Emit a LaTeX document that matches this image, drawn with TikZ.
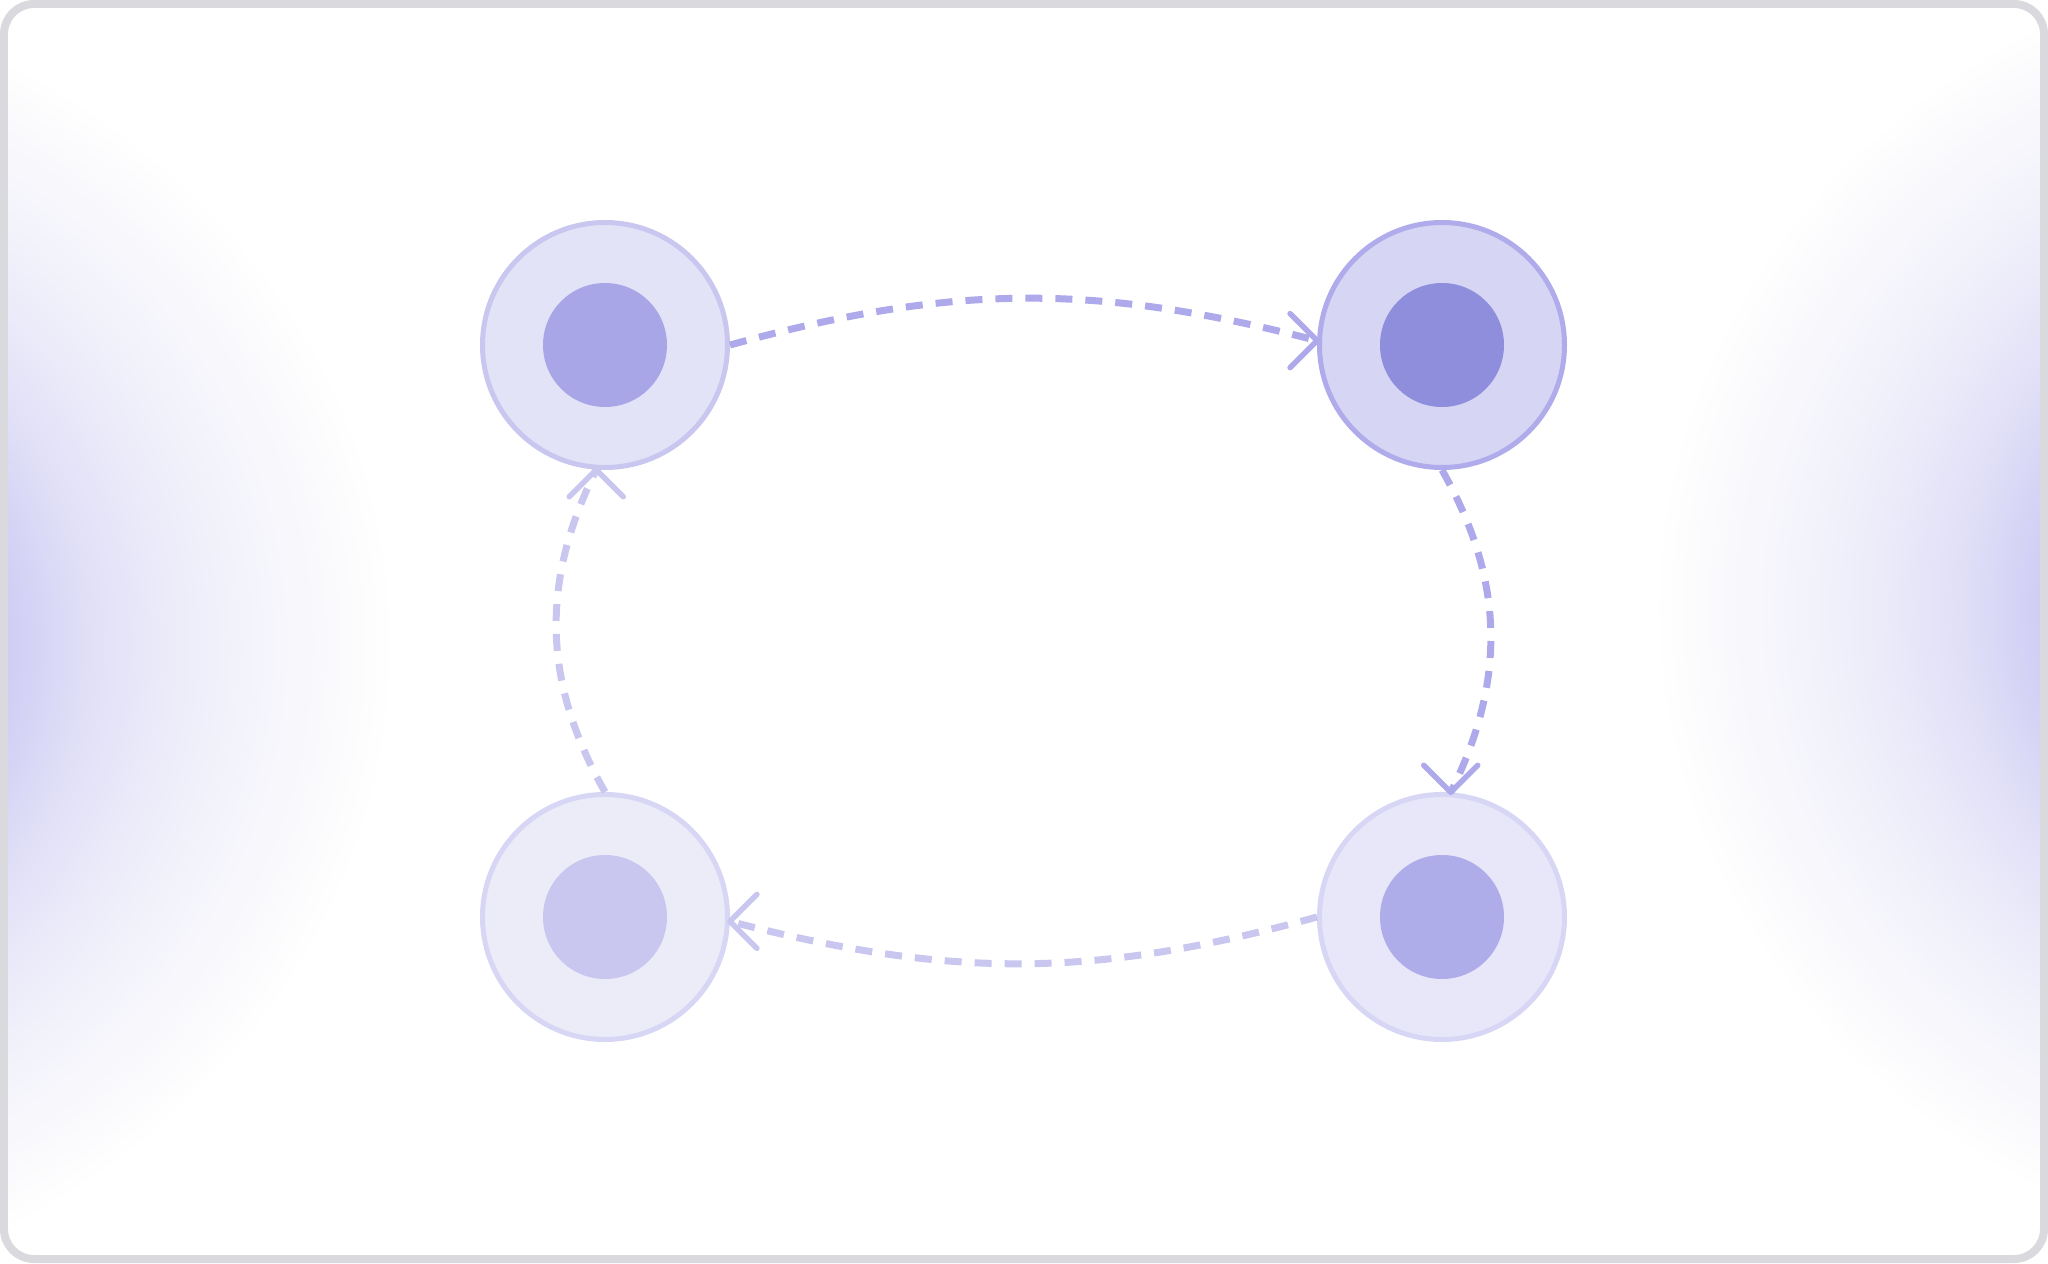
\documentclass[tikz,border=0pt]{standalone}
\usepackage{tikz}
\usetikzlibrary{arrows.meta,calc,positioning}

\definecolor{frameline}{HTML}{DADADE}
\definecolor{glowin}{HTML}{D0CEF4}
\definecolor{glowa}{HTML}{DFDEF7}
\definecolor{glowb}{HTML}{E9E8F9}
\definecolor{glowc}{HTML}{F0F0FB}
\definecolor{glowd}{HTML}{F6F6FC}
\definecolor{glowe}{HTML}{FBFBFD}
\definecolor{tlfill}{HTML}{E3E3F8}
\definecolor{tlline}{HTML}{C9C6EF}
\definecolor{tlcore}{HTML}{A9A6E8}
\definecolor{trfill}{HTML}{D7D5F4}
\definecolor{trline}{HTML}{B0ABEB}
\definecolor{trcore}{HTML}{8F8EDD}
\definecolor{brfill}{HTML}{E8E7F9}
\definecolor{brline}{HTML}{D8D6F5}
\definecolor{brcore}{HTML}{AFACEA}
\definecolor{blfill}{HTML}{ECEBF8}
\definecolor{blline}{HTML}{D8D6F5}
\definecolor{blcore}{HTML}{C9C7EF}
\definecolor{darkflow}{HTML}{AEA9EA}
\definecolor{lightflow}{HTML}{C9C6F0}

\pgfdeclareradialshading{glow}{\pgfpoint{0bp}{0bp}}{%
  color(0bp)=(glowin); color(12.3bp)=(glowin); color(14.6bp)=(glowa);
  color(16.8bp)=(glowb); color(19bp)=(glowc); color(21.2bp)=(glowd);
  color(23.4bp)=(glowe); color(25bp)=(white); color(50bp)=(white)}

\tikzset{
    chev/.pic={\draw[pic actions, line cap=round, line join=round]
        (-0.27,0.27) -- (0,0) -- (-0.27,-0.27);}
}

\begin{document}
\begin{tikzpicture}[
    cell/.style={circle, line width=0.5mm, minimum size=2.45cm, inner sep=0pt},
    core/.style={circle, minimum size=1.24cm, inner sep=0pt},
    flow/.style={line width=0.7mm, dash pattern=on 1.7mm off 1.3mm},
    head/.style={line width=0.55mm}
]
    \useasboundingbox (0,0) rectangle (20.48,12.63);

    \coordinate (nw) at (6.05,9.18);
    \coordinate (ne) at (14.42,9.18);
    \coordinate (sw) at (6.05,3.46);
    \coordinate (se) at (14.42,3.46);

    % soft glow on both sides
    \begin{scope}
        \clip[rounded corners=3mm] (0.04,0.04) rectangle (20.44,12.59);
        \shade[shading=glow] (-3.62,6.18) ellipse (7.57 and 6.71);
        \shade[shading=glow] (24.10,6.56) ellipse (7.57 and 6.71);
    \end{scope}
    \draw[frameline, line width=0.8mm, rounded corners=3mm] (0.04,0.04) rectangle (20.44,12.59);

    \node[cell, draw=tlline, fill=tlfill] (tl) at (nw) {};
    \node[core, fill=tlcore] (tlcore) at (tl) {};
    \node[cell, draw=trline, fill=trfill] (tr) at (ne) {};
    \node[core, fill=trcore] (trcore) at (tr) {};
    \node[cell, draw=brline, fill=brfill] (br) at (se) {};
    \node[core, fill=brcore] (brcore) at (br) {};
    \node[cell, draw=blline, fill=blfill] (bl) at (sw) {};
    \node[core, fill=blcore] (blcore) at (bl) {};

    \draw[flow, darkflow] (tl.east) to[bend left=15] (tr.178);
    \draw[flow, darkflow] (tr.south) to[bend left=28] (br.86);
    \draw[flow, lightflow] (br.west) to[bend left=15] (bl.-2);
    \draw[flow, lightflow] (bl.north) to[bend left=28] (tl.266);

    \pic[head, draw=darkflow] at (tr.178) {chev};
    \pic[head, draw=darkflow, rotate=-90] at (br.86) {chev};
    \pic[head, draw=lightflow, rotate=180] at (bl.-2) {chev};
    \pic[head, draw=lightflow, rotate=90] at (tl.266) {chev};
\end{tikzpicture}
\end{document}
